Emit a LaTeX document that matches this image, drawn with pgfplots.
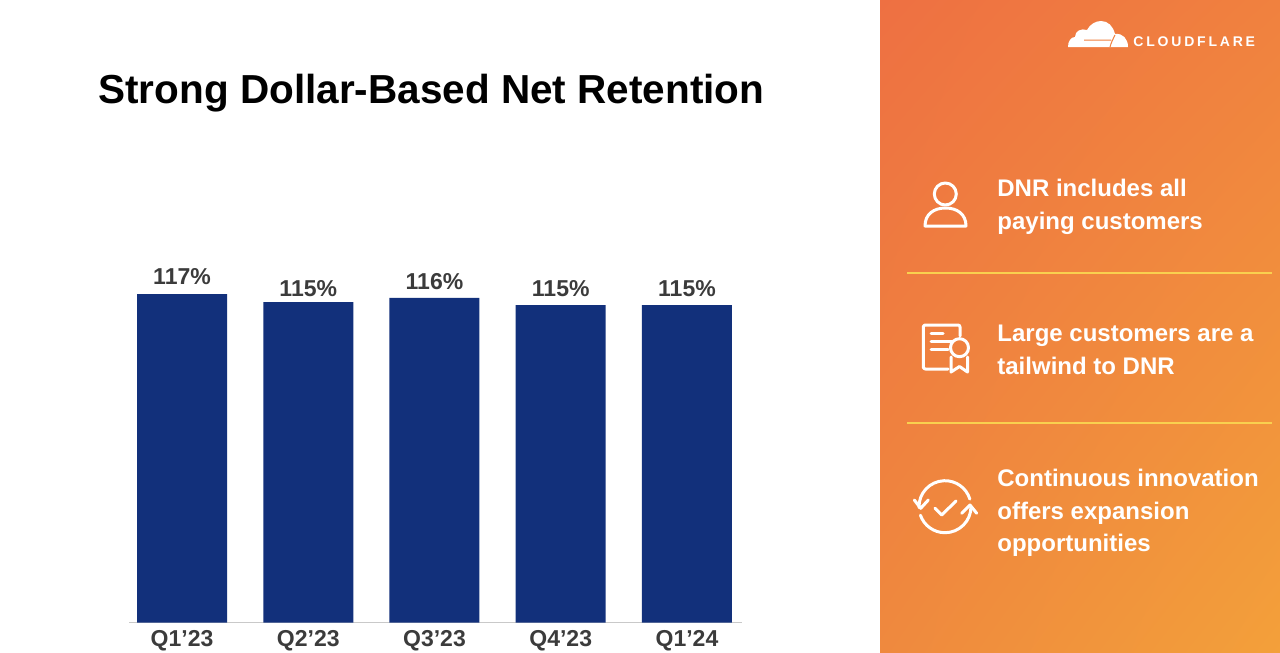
\documentclass[border=0pt]{standalone}
\usepackage{pgfplots}
\pgfplotsset{compat=1.18}
\usetikzlibrary{shadings}
\usepackage{fontspec}
\setmainfont{Liberation Sans}
\definecolor{barblue}{HTML}{12307B}
\definecolor{labelgray}{HTML}{3B3B3B}
\definecolor{axisgray}{HTML}{C9C9C9}
\definecolor{rulegold}{HTML}{F9D04F}
\definecolor{panelA}{HTML}{EE7042}
\definecolor{panelB}{HTML}{F0813F}
\definecolor{panelC}{HTML}{EF893E}
\definecolor{panelD}{HTML}{F3A03A}
\pgfplotstableread{
x y label dy
0 117 117 4.5
1 115.55 115 2.5
2 116.3 116 4
3 115 115 4
4 115 115 4
}\dnrtable
\begin{document}
\begin{tikzpicture}
  \path[use as bounding box] (0,0) rectangle (640pt,-326.5pt);
  % orange side panel
  \shade[upper left=panelA,upper right=panelB,lower left=panelC,lower right=panelD]
    (440pt,0) rectangle (640pt,-326.5pt);

  \begin{axis}[
      at={(64.5pt,-311.25pt)}, anchor=south west,
      scale only axis, width=306.5pt, height=181.25pt,
      xmin=-0.42, xmax=4.436, ymin=57.27, ymax=123.2,
      axis x line=bottom, axis y line=none,
      axis line style={axisgray,line width=0.6pt,-},
      xtick=data,
      xticklabels={Q1’23,Q2’23,Q3’23,Q4’23,Q1’24},
      major tick length=0pt,
      xticklabel style={font=\fontsize{11.5}{13}\selectfont\bfseries,text=labelgray,yshift=-0.5pt},
      ybar, bar width=45pt,
      point meta=explicit symbolic,
      visualization depends on=\thisrow{dy}\as\dy,
      nodes near coords={\pgfplotspointmeta\%},
      every node near coord/.append style={font=\fontsize{11.5}{13}\selectfont\bfseries,text=labelgray,anchor=south,inner sep=0pt,yshift=\dy pt},
    ]
    \addplot[draw=none,fill=barblue] table[x=x,y=y,meta=label] {\dnrtable};
  \end{axis}

  \begin{scope}[x=0.5pt,y=-0.5pt]
    \node[anchor=base west,inner sep=0pt,font=\fontsize{20.25}{24}\selectfont\bfseries,text=black] at (98,103) {Strong Dollar-Based Net Retention};

    % logo
    \fill[white] (1068,47) .. controls (1068,41) and (1071,37) .. (1075,37)
      .. controls (1075,31) and (1081,28) .. (1087,30)
      .. controls (1090,24) and (1096,21) .. (1101,21)
      .. controls (1108,21) and (1113,26) .. (1115,34)
      .. controls (1123,33) and (1128,39) .. (1128,47) -- cycle;
    \draw[panelB,line width=0.5pt] (1084,40) -- (1111,40) (1115,35) .. controls (1113,39) and (1111,43) .. (1110,47);
    \node[anchor=base west,inner sep=0pt,font=\fontsize{7}{8}\selectfont\bfseries,text=white] at (1133,46.5) {\addfontfeatures{LetterSpace=20}CLOUDFLARE};

    % text
    \begin{scope}[every node/.style={anchor=base west,inner sep=0pt,text=white,font=\fontsize{12}{14}\selectfont\bfseries}]
      \node at (997,196) {DNR includes all};
      \node at (997,229) {paying customers};
      \node at (997,341) {Large customers are a};
      \node at (997,374) {tailwind to DNR};
      \node at (997,486) {Continuous innovation};
      \node at (997,519) {offers expansion};
      \node at (997,551) {opportunities};
    \end{scope}

    % separators
    \draw[rulegold,line width=1.3pt] (907,273) -- (1272,273);
    \draw[rulegold,line width=1.3pt] (907,423) -- (1272,423);

    \begin{scope}[draw=white,line width=1.5pt,line cap=round,line join=round]
      % person
      \draw (945.3,194) circle[radius=5.5pt];
      \draw (925,226) .. controls (925,214) and (934,208) .. (945.5,208)
        .. controls (957,208) and (966,214) .. (966,226) -- cycle;
      % certificate
      \draw[rounded corners=1pt] (960,336) -- (960,325) -- (923.3,325) -- (923.3,369) -- (948,369);
      \draw (931,333) -- (943,333) (931,341) -- (952,341) (931,349) -- (948,349);
      \draw (959.5,347.7) circle[radius=4.5pt];
      \draw (951,357) -- (951,372) -- (959.5,366.5) -- (967.5,372) -- (967.5,357);
      % cycle
      \draw (919,507.6) arc[start angle=182,end angle=17,radius=13pt];
      \draw (971,506.7) arc[start angle=0,end angle=-161,radius=13pt];
      \draw (914.3,500) -- (920.7,508.3) -- (928.3,500);
      \draw (961.7,513.3) -- (970,505) -- (976.7,513.3);
      \draw (935,508.3) -- (941.7,515) -- (956,501);
    \end{scope}
  \end{scope}
\end{tikzpicture}
\end{document}
